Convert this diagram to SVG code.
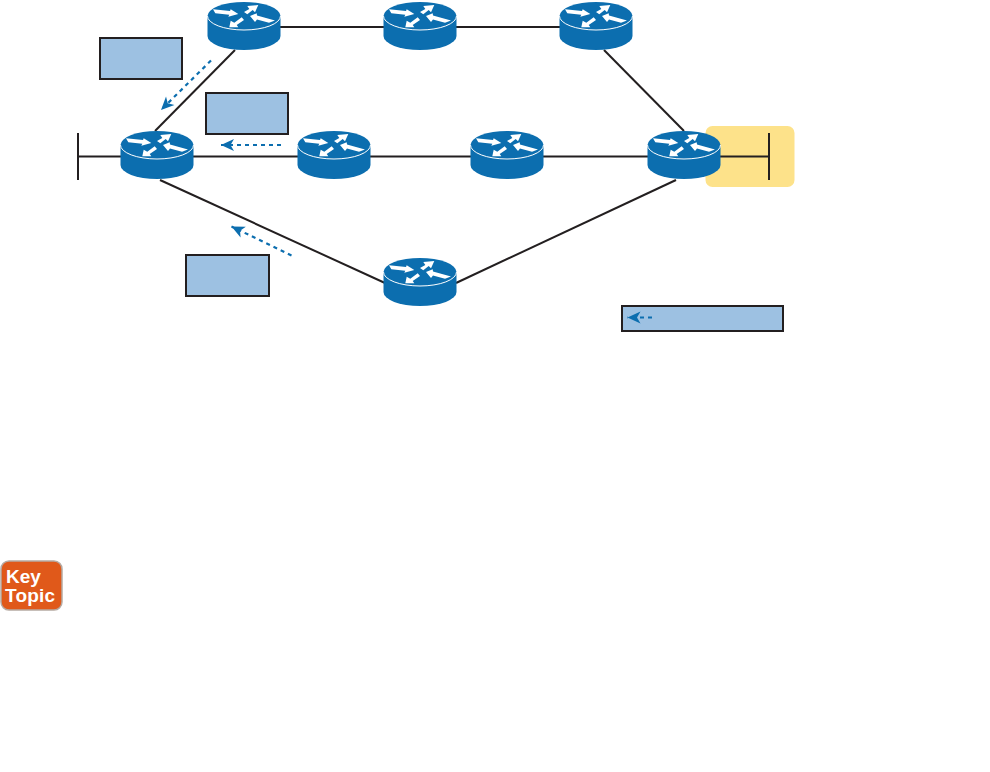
<svg xmlns="http://www.w3.org/2000/svg" width="990" height="772" viewBox="0 0 990 772">
<style>
.link{stroke:#231f20;stroke-width:2;fill:none}
.box{fill:#9dc1e2;stroke:#231f20;stroke-width:2}
.flow{stroke:#0c6eaf;stroke-width:2.200;stroke-dasharray:4 4;fill:none;marker-end:url(#head)}
.kt{font-family:"Liberation Sans",Arial,sans-serif;font-weight:700;font-size:19px;fill:#fff}
</style>
<defs>
<marker id="head" markerUnits="userSpaceOnUse" markerWidth="16" markerHeight="16" viewBox="0 0 16 16" refX="14" refY="8" orient="auto">
<path d="M14 8L1 2L4.500 8L1 14Z" fill="#0c6eaf"/>
</marker>
<g id="router">
<path d="M-36.500 0V20A36.500 14 0 0 0 36.500 20V0Z" fill="#0c6eaf"/>
<ellipse cx="0" cy="0" rx="36.500" ry="14" fill="#0c6eaf"/>
<path d="M-36.500 0A36.500 14 0 0 0 36.500 0" fill="none" stroke="#fff" stroke-width="1"/>
<path d="M-31-6.700L-14-5L-13.300-6.700L-5.700-2L-15.700 0.700L-14.700-1.300L-28.700-2.700Z" fill="#fff"/>
<path d="M0-4L5.300-7L3.300-10L14.300-11L11-3.700L8.700-6L3.300-1.700Z" fill="#fff"/>
<path d="M6 0L12.700-2.700L13-0.500L31 4.500L25 6.700L13 3.500L11 6Z" fill="#fff"/>
<path d="M-14.700 11.300L-13.300 4.700L-9.700 6.700L-2.300 1.300L0 4L-7.300 9L-5.700 11.300Z" fill="#fff"/>
</g>
</defs>
<rect x="705.500" y="126" width="89" height="61" rx="7" fill="#fde28a"/>
<g id="connectors">
<path class="link" d="M244 27H596"/>
<path class="link" d="M78 156.500H769"/>
<path class="link" d="M78 133V180M769 133V180"/>
<path class="link" d="M235 50L155 131"/>
<path class="link" d="M604 50L684 131"/>
<path class="link" d="M160 180L385 283"/>
<path class="link" d="M456 283L676 180"/>
<path class="flow" d="M211 60.500L161 110"/>
<path class="flow" d="M281 145H221"/>
<path class="flow" d="M291.500 255.500L231.500 226.500"/>
</g>
<g id="r1"><use href="#router" x="244" y="16"/></g>
<g id="r2"><use href="#router" x="420" y="16"/></g>
<g id="r3"><use href="#router" x="596" y="16"/></g>
<g id="r4"><use href="#router" x="157" y="145"/></g>
<g id="r5"><use href="#router" x="334" y="145"/></g>
<g id="r6"><use href="#router" x="507" y="145"/></g>
<g id="r7"><use href="#router" x="684" y="145"/></g>
<g id="r8"><use href="#router" x="420" y="272"/></g>
<g id="box1"><rect class="box" x="100" y="38" width="82" height="41"/></g>
<g id="box2"><rect class="box" x="206" y="93" width="82" height="41"/></g>
<g id="box3"><rect class="box" x="186" y="255" width="83" height="41"/></g>
<g id="legend">
<rect class="box" x="622" y="306" width="161" height="25"/>
<path class="flow" d="M652 317.500H627.500"/>
</g>
<g id="key-topic">
<rect x="1" y="561" width="61" height="49" rx="8" fill="#e0591a" stroke="#b5aaa3" stroke-width="1.500"/>
<text class="kt" x="6" y="583">Key</text>
<text class="kt" x="5" y="602" textLength="50">Topic</text>
</g>
</svg>
